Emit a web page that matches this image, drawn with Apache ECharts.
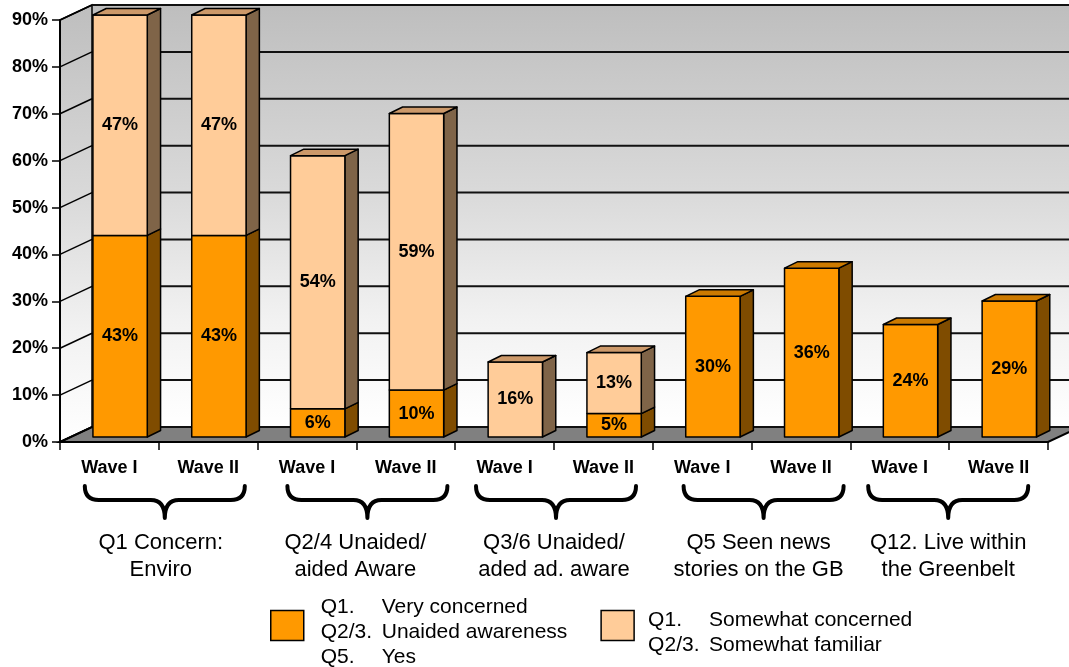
<!DOCTYPE html>
<html>
<head>
<meta charset="utf-8">
<title>Greenbelt survey – Wave I / Wave II</title>
<script src="https://cdn.jsdelivr.net/npm/echarts@6/dist/echarts.min.js"></script>
<style>
  html, body { margin: 0; padding: 0; background: #ffffff; }
  #chart { width: 1069px; height: 667px; }
</style>
</head>
<body>
<div id="chart"></div>
<script>
// ---- data ----
const categories = ['Wave I', 'Wave II', 'Wave I', 'Wave II', 'Wave I', 'Wave II', 'Wave I', 'Wave II', 'Wave I', 'Wave II'];
const groupLabels = [
  'Q1 Concern:\nEnviro',
  'Q2/4 Unaided/\naided Aware',
  'Q3/6 Unaided/\naded ad. aware',
  'Q5 Seen news\nstories on the GB',
  'Q12. Live within\nthe Greenbelt'
];
const veryConcerned = [43, 43, 6, 10, 0, 5, 30, 36, 24, 29];
const somewhatConcerned = [47, 47, 54, 59, 16, 13, 0, 0, 0, 0];
const yTicks = [0, 10, 20, 30, 40, 50, 60, 70, 80, 90];
const legendDarkLines = [['Q1.', 'Very concerned'], ['Q2/3.', 'Unaided awareness'], ['Q5.', 'Yes']];
const legendLightLines = [['Q1.', 'Somewhat concerned'], ['Q2/3.', 'Somewhat familiar']];

// ---- 3D look ----
const FONT = 'Liberation Sans, Arial, Helvetica, sans-serif';
const WALL_DX = 32, WALL_DY = -15;      // depth of the floor / side wall
const BAR_OFF_X = 10.7, BAR_OFF_Y = -5; // bars sit a third of the way into the floor
const BAR_DX = 13.3, BAR_DY = -6.5;     // bar depth
const BAR_RATIO = 0.55;
const braceShift = [6, 11, 2, 12, -1];
const labelShift = [2, -1, 0, 7, -1];

const darkPalette = { front: '#FF9900', side: '#7F4C00', top: '#CC7A00' };
const lightPalette = { front: '#FFCC99', side: '#7F6448', top: '#CC996A' };

const wallFill = {
  type: 'linear', x: 0, y: 0, x2: 0, y2: 1,
  colorStops: [
    { offset: 0, color: '#bebebe' },
    { offset: 0.45, color: '#dadada' },
    { offset: 0.75, color: '#f2f2f2' },
    { offset: 1, color: '#ffffff' }
  ]
};

function renderWalls(params, api) {
  const cs = params.coordSys;
  const left = cs.x, right = cs.x + cs.width, top = cs.y, bottom = cs.y + cs.height;
  return {
    type: 'group',
    children: [
      { type: 'polygon', shape: { points: [[left + WALL_DX, top + WALL_DY], [right + WALL_DX + 40, top + WALL_DY], [right + WALL_DX + 40, bottom + WALL_DY], [left + WALL_DX, bottom + WALL_DY]] },
        style: { fill: wallFill, stroke: null } },
      { type: 'polygon', shape: { points: [[left, top], [left + WALL_DX, top + WALL_DY], [left + WALL_DX, bottom + WALL_DY], [left, bottom]] },
        style: { fill: wallFill, stroke: '#000', lineWidth: 1.5 } },
      { type: 'polygon', shape: { points: [[left, bottom], [left + WALL_DX, bottom + WALL_DY], [right + WALL_DX, bottom + WALL_DY], [right, bottom]] },
        style: { fill: '#808080', stroke: '#000', lineWidth: 2 } }
    ]
  };
}

function renderGridLine(params, api) {
  const cs = params.coordSys;
  const p = api.coord([0, api.value(1)]);
  const left = cs.x, right = cs.x + cs.width;
  return {
    type: 'group',
    children: [
      { type: 'line', shape: { x1: left, y1: p[1], x2: left + WALL_DX, y2: p[1] + WALL_DY }, style: { stroke: '#000', lineWidth: 1.5 } },
      { type: 'line', shape: { x1: left + WALL_DX, y1: p[1] + WALL_DY, x2: right + WALL_DX + 40, y2: p[1] + WALL_DY }, style: { stroke: '#111', lineWidth: 2 } }
    ]
  };
}

function makeBarRenderer(palette) {
  return function (params, api) {
    const idx = api.value(0);
    const lo = api.value(1), hi = api.value(2);
    if (!(hi > lo)) return null;
    const slot = api.size([1, 0])[0];
    const w = slot * BAR_RATIO;
    const pLo = api.coord([idx, lo]);
    const pHi = api.coord([idx, hi]);
    const x0 = pLo[0] - w / 2 + BAR_OFF_X, x1 = x0 + w;
    const yb = pLo[1] + BAR_OFF_Y, yt = pHi[1] + BAR_OFF_Y;
    const edge = { stroke: '#000', lineWidth: 1.5, lineJoin: 'round' };
    const children = [
      { type: 'polygon', shape: { points: [[x1, yb], [x1 + BAR_DX, yb + BAR_DY], [x1 + BAR_DX, yt + BAR_DY], [x1, yt]] },
        style: Object.assign({ fill: palette.side }, edge) },
      { type: 'rect', shape: { x: x0, y: yt, width: w, height: yb - yt },
        style: Object.assign({ fill: palette.front }, edge) }
    ];
    if (api.value(3) === 1) {
      children.push({ type: 'polygon', shape: { points: [[x0, yt], [x1, yt], [x1 + BAR_DX, yt + BAR_DY], [x0 + BAR_DX, yt + BAR_DY]] },
        style: Object.assign({ fill: palette.top }, edge) });
    }
    children.push({
      type: 'text', x: (x0 + x1) / 2, y: (yt + yb) / 2,
      style: { text: (hi - lo) + '%', fill: '#000', font: 'bold 18px ' + FONT, align: 'center', verticalAlign: 'middle' }
    });
    return { type: 'group', children: children };
  };
}

function renderBrace(params, api) {
  const g = params.dataIndex;
  const xa = api.coord([2 * g, 0])[0];
  const xb = api.coord([2 * g + 1, 0])[0];
  const base = params.coordSys.y + params.coordSys.height;
  const cx = (xa + xb) / 2 + braceShift[g];
  const half = 80, r = 14;
  const yTop = base + 44, yMid = base + 58, yTip = base + 76;
  const path = 'M' + (cx - half) + ',' + yTop +
    ' Q' + (cx - half) + ',' + yMid + ' ' + (cx - half + r) + ',' + yMid +
    ' L' + (cx - r) + ',' + yMid +
    ' Q' + cx + ',' + yMid + ' ' + cx + ',' + yTip +
    ' Q' + cx + ',' + yMid + ' ' + (cx + r) + ',' + yMid +
    ' L' + (cx + half - r) + ',' + yMid +
    ' Q' + (cx + half) + ',' + yMid + ' ' + (cx + half) + ',' + yTop;
  return {
    type: 'group',
    children: [
      { type: 'path', shape: { pathData: path }, style: { fill: null, stroke: '#000', lineWidth: 4, lineCap: 'round', lineJoin: 'round' } },
      { type: 'text', x: (xa + xb) / 2 + labelShift[g], y: base + 87,
        style: { text: groupLabels[g], fill: '#000', font: '22px ' + FONT, lineHeight: 27, align: 'center', verticalAlign: 'top' } }
    ]
  };
}

function legendText(lines) {
  return lines.map(function (l) { return '{a|' + l[0] + '}{b|' + l[1] + '}'; }).join('\n');
}

const darkData = categories.map(function (_, i) { return [i, 0, veryConcerned[i], somewhatConcerned[i] > 0 ? 0 : 1]; });
const lightData = categories.map(function (_, i) { return [i, veryConcerned[i], veryConcerned[i] + somewhatConcerned[i], 1]; });

const legendRich = {
  a: { width: 61, fontSize: 21, lineHeight: 25, color: '#000', fontFamily: FONT },
  b: { fontSize: 21, lineHeight: 25, color: '#000', fontFamily: FONT }
};

const chart = echarts.init(document.getElementById('chart'), null, { renderer: 'canvas' });
chart.setOption({
  animation: false,
  backgroundColor: '#ffffff',
  textStyle: { fontFamily: FONT },
  grid: { left: 60, right: 21, top: 20, bottom: 225, containLabel: false, outerBoundsMode: 'none' },
  xAxis: {
    type: 'category',
    data: categories,
    z: 5,
    axisLine: { show: true, lineStyle: { color: '#000', width: 2 } },
    axisTick: { show: true, length: 8, lineStyle: { color: '#000', width: 1.5 } },
    axisLabel: { color: '#000', fontSize: 18, fontWeight: 'bold', margin: 17, interval: 0 },
    splitLine: { show: false }
  },
  yAxis: {
    type: 'value',
    min: 0, max: 90, interval: 10,
    z: 5,
    axisLine: { show: true, lineStyle: { color: '#000', width: 2 } },
    axisTick: { show: true, length: 8, lineStyle: { color: '#000', width: 1.5 } },
    axisLabel: { color: '#000', fontSize: 18, fontWeight: 'bold', margin: 12, formatter: function (v) { return yTicks.indexOf(v) >= 0 ? v + '%' : ''; } },
    splitLine: { show: false }
  },
  legend: {
    left: 265,
    top: 592,
    orient: 'horizontal',
    itemGap: 33,
    itemWidth: 33,
    itemHeight: 30,
    icon: 'rect',
    itemStyle: { borderColor: '#000', borderWidth: 1.5 },
    data: [
      { name: 'Very concerned', textStyle: { color: '#000', padding: [14, 0, 0, 12], rich: legendRich } },
      { name: 'Somewhat concerned', textStyle: { color: '#000', padding: [14, 0, 0, 9], rich: legendRich } }
    ],
    formatter: function (name) {
      return legendText(name === 'Very concerned' ? legendDarkLines : legendLightLines);
    },
    textStyle: {
      color: '#000',
      padding: [14, 0, 0, 12],
      rich: legendRich
    }
  },
  series: [
    { type: 'custom', name: 'walls', z: 1, silent: true, clip: false, renderItem: renderWalls, data: [[0, 0]], encode: { x: 0, y: 1 } },
    { type: 'custom', name: 'gridlines', z: 1.5, silent: true, clip: false, renderItem: renderGridLine,
      data: yTicks.map(function (v) { return [0, v]; }), encode: { x: 0, y: 1 } },
    { type: 'custom', name: 'Very concerned', z: 3, clip: false, renderItem: makeBarRenderer(darkPalette),
      itemStyle: { color: darkPalette.front }, data: darkData, encode: { x: 0, y: [1, 2] } },
    { type: 'custom', name: 'Somewhat concerned', z: 4, clip: false, renderItem: makeBarRenderer(lightPalette),
      itemStyle: { color: lightPalette.front }, data: lightData, encode: { x: 0, y: [1, 2] } },
    { type: 'custom', name: 'groups', z: 4, silent: true, clip: false, renderItem: renderBrace,
      data: groupLabels.map(function (_, g) { return [2 * g, 0]; }), encode: { x: 0, y: 1 } }
  ]
});
</script>
</body>
</html>
